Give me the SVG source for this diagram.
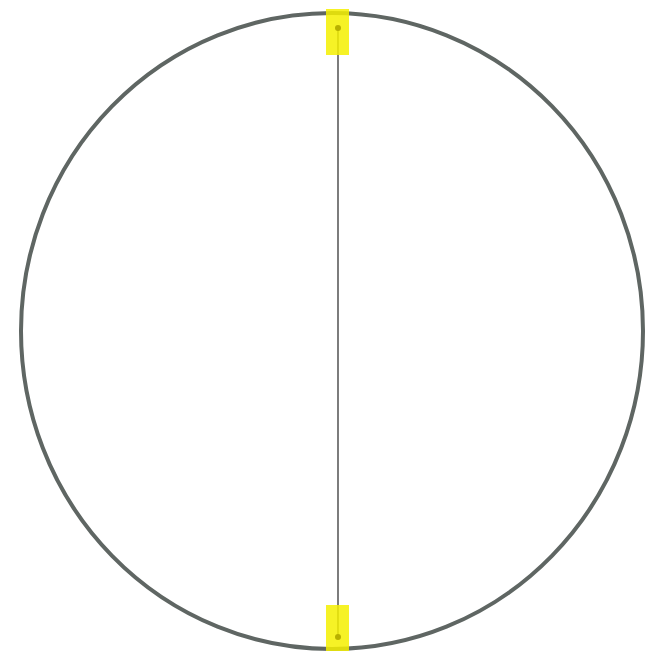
<svg xmlns="http://www.w3.org/2000/svg" width="651" height="656" viewBox="0 0 651 656">
<style>
.hl{fill:#f5f000;opacity:0.85}
.dot{fill:#b8b000}
</style>
<rect width="651" height="656" fill="#fff"/>
<g id="circle"><ellipse cx="332" cy="331" rx="311" ry="318" fill="none" stroke="#5f6663" stroke-width="4"/></g>
<g id="connectors"><line x1="338" y1="28" x2="338" y2="637" stroke="#111" stroke-width="1.1"/></g>
<g id="top-marker"><rect class="hl" x="326" y="9" width="23" height="46"/><circle class="dot" cx="338" cy="28" r="3"/></g>
<g id="bottom-marker"><rect class="hl" x="326" y="605" width="23" height="46"/><circle class="dot" cx="338" cy="637" r="3"/></g>
</svg>
